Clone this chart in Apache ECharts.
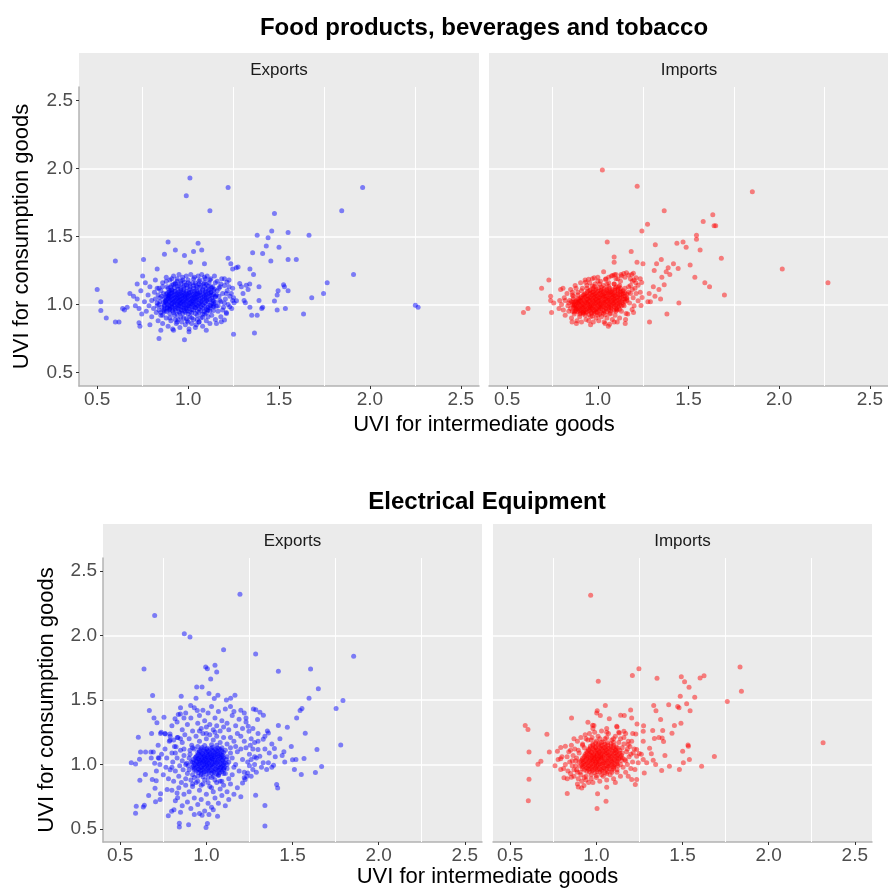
<!DOCTYPE html>
<html>
<head>
<meta charset="utf-8">
<script src="https://cdn.jsdelivr.net/npm/echarts@6/dist/echarts.min.js"></script>
<style>
html,body{margin:0;padding:0;background:#ffffff;}
#chart{width:888px;height:888px;}
</style>
</head>
<body>
<div id="chart"></div>
<script>
// Axis breaks shared by all four facets
const xBreaks = [0.5, 1.0, 1.5, 2.0, 2.5];
const yBreaks = [0.5, 1.0, 1.5, 2.0, 2.5];
const xMinorBreaks = [0.75, 1.25, 1.75, 2.25];
const facetLabels = ['Exports', 'Imports'];
const sectorTitles = ['Food products, beverages and tobacco', 'Electrical Equipment'];
const xTitle = 'UVI for intermediate goods';
const yTitle = 'UVI for consumption goods';

// Food products, beverages and tobacco — exports [intermediate UVI, consumption UVI]
const foodExports = [
[0.50,1.11],[0.52,1.02],[0.52,0.955],[0.55,0.90],[0.60,1.32],[0.60,0.87],[0.62,0.87],[0.64,0.97],[0.65,0.96],[0.665,0.98],
[0.68,1.08],[0.72,1.15],[0.75,1.21],[0.755,1.33],[0.73,0.865],[0.735,0.84],[0.79,0.85],[0.83,1.26],[0.85,0.81],[0.84,0.75],
[0.87,1.37],[0.89,1.46],[0.93,1.40],[0.92,0.81],[0.98,0.74],[0.98,1.36],[1.01,1.93],[0.99,1.80],[1.03,1.39],[1.055,1.45],
[1.075,1.40],[1.005,0.82],[1.013,1.31],[1.09,1.30],[1.12,1.69],[1.10,0.81],[1.045,0.85],[1.22,1.86],[1.22,1.34],[1.235,1.30],
[1.25,0.78],[1.245,1.26],[1.265,1.27],[1.275,1.275],[1.34,1.26],[1.355,1.38],[1.38,1.51],[1.36,1.22],[1.34,0.98],[1.35,0.92],
[1.365,0.79],[1.38,0.92],[1.39,1.03],[1.39,1.13],[1.405,0.97],[1.41,0.98],[1.41,1.375],[1.43,1.43],[1.44,1.49],[1.455,1.32],
[1.46,1.54],[1.475,1.67],[1.475,1.025],[1.49,0.96],[1.49,1.07],[1.495,1.10],[1.50,1.42],[1.525,1.145],[1.53,1.13],[1.535,0.97],
[1.55,1.53],[1.55,1.33],[1.55,1.10],[1.595,1.33],[1.635,0.93],[1.665,1.51],[1.68,1.05],[1.745,1.08],[1.765,1.16],[1.845,1.69],
[1.91,1.22],[1.96,1.86],[2.25,0.995],[2.265,0.98],
[1.214,1.164],[1.225,1.13],[1.238,1.08],[1.245,1.03],[1.253,1.012],[1.266,1.027],[1.284,1.154],[1.293,1.13],[1.302,1.08],[1.308,1.03],
[1.32,1.142],[1.33,1.11],[1.315,1.012],[1.339,1.15],[1.229,0.983],[1.211,0.934],[1.20,0.885],[1.183,0.873],[1.156,0.86],
[0.70,1.06],[0.71,0.99],[0.72,1.04],[0.73,0.97],[0.74,1.10],[0.745,0.93],[0.76,1.02],[0.765,1.16],[0.77,0.95],[0.78,1.07],
[0.785,0.99],[0.79,1.13],[0.80,0.91],[0.80,1.03],[0.81,0.97],[0.815,1.09],[0.82,1.18],[0.825,0.94],[0.83,1.01],[0.835,0.88],
[0.84,1.12],[0.845,1.05],[0.85,0.92],[0.855,0.98],[0.86,1.16],[0.86,0.86],[0.865,1.08],[0.87,0.95],[0.875,1.02],[0.88,1.20],
[0.88,0.90],[0.885,1.13],[0.89,0.84],[0.895,1.06],[0.90,0.97],[0.90,1.18],[0.905,0.88],[0.91,1.10],[0.915,0.82],[0.92,1.21],
[0.925,0.92],[0.93,1.15],[0.935,0.86],[0.94,1.19],[0.945,0.89],[0.95,1.22],[0.955,0.83],[0.96,1.17],[0.965,0.87],[0.97,1.20],
[0.975,0.90],[0.98,1.14],[0.985,0.85],[0.99,1.21],[0.995,0.88],[1.00,1.18],[1.005,0.80],[1.01,0.91],[1.015,1.22],[1.02,0.86],
[1.025,1.16],[1.03,0.89],[1.035,1.20],[1.04,0.83],[1.045,1.14],[1.05,0.92],[1.055,1.21],[1.06,0.87],[1.065,1.18],[1.07,0.90],
[1.075,1.22],[1.08,0.84],[1.085,1.15],[1.09,0.93],[1.095,1.19],[1.10,0.88],[1.105,1.21],[1.11,0.96],[1.115,1.16],[1.12,0.86],
[1.125,1.19],[1.13,0.92],[1.135,1.13],[1.14,0.99],[1.145,1.21],[1.15,0.89],[1.155,1.07],[1.16,1.17],[1.165,0.95],[1.17,1.12],
[1.175,1.03],[1.18,0.91],[1.185,1.19],[1.19,1.08],[1.195,0.98],[1.20,1.14],[1.205,1.04],[1.21,0.94],[1.215,1.10],[1.22,1.00],
[1.225,1.18],[1.23,1.06],[1.24,0.97],[1.245,1.12],[1.25,1.05],
[0.82,1.04],[0.83,0.99],[0.835,1.07],[0.84,0.96],[0.845,1.02],[0.85,1.10],[0.85,0.94],[0.855,1.06],[0.84,1.00],[0.83,1.12],[0.86,0.92],[0.86,1.13],
[0.88,1.17],[0.91,1.19],[0.94,1.17],[0.97,1.18],[1.00,1.16],[1.03,1.19],[1.06,1.17],[1.09,1.20],[1.12,1.18],[1.15,1.16],[1.18,1.15],[1.20,1.19],
[1.16,1.10],[1.17,1.06],[1.18,1.02],[1.19,0.96],[1.165,0.99],[1.175,1.13],[1.21,1.08],[1.20,1.01],
[0.90,0.90],[0.93,0.89],[0.96,0.905],[0.99,0.895],[1.02,0.90],[1.05,0.89],[1.08,0.905],[1.11,0.91],[0.94,0.87],[1.00,0.87],[1.06,0.87],
[0.90,0.932],[0.94,0.927],[0.97,0.934],[1.00,0.929],[1.04,0.933],[1.08,0.928],
[0.88,0.948],[0.915,0.953],[0.95,0.946],[0.98,0.952],[1.01,0.947],[1.05,0.954],[1.09,0.949],[1.12,0.951],
[0.87,0.967],[0.90,0.962],[0.93,0.968],[0.96,0.963],[0.99,0.966],[1.02,0.961],[1.06,0.969],[1.10,0.964],
[0.885,0.978],[0.91,0.983],[0.94,0.977],[0.965,0.982],[0.99,0.976],[1.015,0.984],[1.04,0.979],[1.07,0.983],[1.11,0.977],[1.14,0.981],
[0.87,0.996],[0.90,0.992],[0.925,0.998],[0.95,0.993],[0.975,0.997],[1.00,0.991],[1.025,0.999],[1.05,0.994],[1.08,0.997],[1.12,0.992],
[0.88,1.012],[0.91,1.007],[0.935,1.013],[0.955,1.008],[0.98,1.011],[1.005,1.006],[1.03,1.014],[1.06,1.009],[1.09,1.012],[1.13,1.007],
[0.875,1.023],[0.90,1.028],[0.925,1.022],[0.95,1.027],[0.97,1.021],[0.995,1.026],[1.02,1.024],[1.045,1.029],[1.07,1.022],[1.10,1.027],[1.14,1.024],
[0.89,1.042],[0.915,1.037],[0.94,1.043],[0.96,1.038],[0.985,1.041],[1.01,1.036],[1.035,1.044],[1.06,1.039],[1.09,1.042],[1.12,1.037],
[0.88,1.053],[0.905,1.058],[0.93,1.052],[0.955,1.057],[0.98,1.054],[1.00,1.059],[1.025,1.051],[1.05,1.056],[1.08,1.053],[1.11,1.058],[1.15,1.054],
[0.895,1.072],[0.92,1.067],[0.945,1.073],[0.97,1.068],[0.995,1.071],[1.02,1.066],[1.045,1.074],[1.07,1.069],[1.10,1.072],[1.13,1.067],
[0.885,1.083],[0.91,1.088],[0.94,1.082],[0.965,1.087],[0.99,1.084],[1.015,1.089],[1.04,1.081],[1.065,1.086],[1.095,1.083],[1.125,1.088],
[0.90,1.102],[0.93,1.097],[0.96,1.103],[0.99,1.098],[1.02,1.101],[1.05,1.096],[1.08,1.104],[1.11,1.099],[1.14,1.102],
[0.89,1.118],[0.925,1.123],[0.96,1.117],[0.995,1.122],[1.03,1.119],[1.065,1.124],[1.10,1.116],[1.13,1.121],
[0.91,1.142],[0.95,1.137],[0.99,1.143],[1.03,1.138],[1.07,1.141],[1.11,1.136],
[0.93,1.158],[0.98,1.163],[1.04,1.157],[1.09,1.162],
[0.92,0.941],[0.955,0.938],[0.985,0.943],[1.02,0.939],[1.06,0.942],[1.10,0.937],
[0.865,0.956],[0.895,0.959],[0.93,0.955],[0.965,0.958],[0.995,0.954],[1.03,0.96],[1.07,0.956],[1.105,0.959],[1.14,0.955],
[0.885,0.972],[0.915,0.975],[0.945,0.971],[0.975,0.974],[1.005,0.97],[1.04,0.975],[1.08,0.972],[1.12,0.974],
[0.87,0.987],[0.895,0.99],[0.925,0.986],[0.95,0.989],[0.98,0.985],[1.005,0.99],[1.03,0.986],[1.055,0.989],[1.09,0.987],[1.125,0.99],[1.155,0.986],
[0.885,1.002],[0.91,1.005],[0.94,1.001],[0.96,1.004],[0.99,1.0],[1.015,1.005],[1.04,1.001],[1.065,1.004],[1.10,1.002],[1.14,1.005],
[0.865,1.017],[0.895,1.02],[0.92,1.016],[0.945,1.019],[0.965,1.015],[0.99,1.02],[1.015,1.016],[1.04,1.019],[1.075,1.017],[1.11,1.02],[1.15,1.016],
[0.88,1.032],[0.905,1.035],[0.93,1.031],[0.955,1.034],[0.975,1.03],[1.0,1.035],[1.025,1.031],[1.05,1.034],[1.08,1.032],[1.105,1.035],[1.135,1.031],
[0.87,1.047],[0.895,1.05],[0.92,1.046],[0.945,1.049],[0.97,1.045],[0.995,1.05],[1.02,1.046],[1.045,1.049],[1.07,1.047],[1.1,1.05],[1.13,1.046],
[0.89,1.062],[0.915,1.065],[0.94,1.061],[0.965,1.064],[0.985,1.06],[1.01,1.065],[1.035,1.061],[1.06,1.064],[1.09,1.062],[1.12,1.065],[1.15,1.061],
[0.88,1.077],[0.905,1.08],[0.93,1.076],[0.955,1.079],[0.98,1.075],[1.005,1.08],[1.03,1.076],[1.055,1.079],[1.085,1.077],[1.115,1.08],[1.14,1.076],
[0.895,1.092],[0.925,1.095],[0.95,1.091],[0.975,1.094],[1.005,1.09],[1.035,1.095],[1.065,1.091],[1.095,1.094],[1.125,1.092],
[0.91,1.109],[0.945,1.112],[0.975,1.108],[1.01,1.111],[1.045,1.107],[1.08,1.112],[1.115,1.108],[1.145,1.111],
[0.905,1.129],[0.94,1.132],[0.975,1.128],[1.01,1.131],[1.05,1.127],[1.09,1.132],[1.125,1.128],
[0.92,1.149],[0.96,1.152],[1.01,1.148],[1.06,1.151],[1.10,1.147]
];

// Food products, beverages and tobacco — imports
const foodImports = [
[0.59,0.94],[0.615,0.97],[0.69,1.12],[0.73,1.18],[0.74,1.06],[0.74,1.03],[0.745,0.94],[0.757,1.01],[0.786,0.97],[0.795,1.11],
[0.808,1.12],[0.79,1.03],[0.858,0.87],[0.882,0.86],[1.025,1.99],[1.052,1.46],[1.032,1.24],[1.09,1.35],[1.09,1.31],[1.058,0.84],
[1.065,0.855],[1.107,0.87],[1.153,0.89],[1.151,0.86],[1.184,1.39],[1.197,0.94],[1.217,1.87],[1.243,1.54],[1.216,1.31],[1.249,1.30],
[1.274,1.59],[1.285,0.87],[1.317,1.44],[1.311,1.25],[1.324,1.30],[1.306,1.13],[1.283,1.08],[1.29,1.02],[1.276,1.02],[1.315,1.06],
[1.337,1.11],[1.346,1.04],[1.35,1.33],[1.353,1.20],[1.366,1.69],[1.366,1.145],[1.377,1.24],[1.388,1.27],[1.397,1.22],[1.417,1.30],
[1.443,1.265],[1.436,1.45],[1.447,1.01],[1.381,0.93],[1.47,1.46],[1.487,1.42],[1.509,1.29],[1.535,1.20],[1.544,1.51],[1.544,1.48],
[1.564,1.40],[1.581,1.61],[1.59,1.16],[1.616,1.13],[1.634,1.66],[1.641,1.58],[1.65,1.58],[1.681,1.34],[1.698,1.07],[1.852,1.83],
[2.017,1.26],[2.269,1.16],
[1.128,1.22],[1.143,1.228],[1.158,1.233],[1.17,1.216],[1.187,1.22],[1.196,1.23],[1.211,1.196],[1.234,1.189],[1.242,1.162],[1.222,1.142],
[1.234,1.09],[1.211,1.081],[1.244,1.051],[1.222,1.027],[1.238,0.993],[1.189,0.963],[1.156,0.934],
[0.932,1.164],[0.949,1.186],[0.98,1.196],[1.0,1.172],[1.042,1.184],[1.082,1.213],[1.092,1.218],[1.11,1.189],
[0.80,1.00],[0.81,0.96],[0.815,1.05],[0.82,0.92],[0.83,1.08],[0.835,0.99],[0.84,0.95],[0.845,1.03],[0.85,1.11],[0.855,0.90],
[0.86,1.00],[0.865,1.06],[0.87,0.93],[0.875,1.14],[0.88,0.97],[0.885,0.88],[0.89,1.09],[0.895,1.02],[0.90,0.91],[0.905,1.16],
[0.91,0.87],[0.915,1.12],[0.92,0.94],[0.93,1.18],[0.935,0.89],[0.94,1.14],[0.95,0.88],[0.955,1.16],[0.96,0.91],[0.97,1.19],
[0.975,0.87],[0.985,1.15],[0.99,0.90],[1.00,1.20],[1.005,0.88],[1.015,1.17],[1.02,0.91],[1.03,1.14],[1.035,0.87],[1.045,1.19],
[1.05,0.90],[1.06,1.16],[1.065,0.93],[1.075,1.21],[1.08,0.89],[1.09,1.15],[1.095,0.92],[1.10,1.19],[1.105,0.96],[1.115,1.13],
[1.12,0.90],[1.125,1.17],[1.13,0.95],[1.14,1.10],[1.145,0.99],[1.15,1.20],[1.16,1.04],[1.165,0.93],[1.17,1.13],[1.175,1.01],
[1.18,1.08],[1.19,1.17],[1.195,1.05],[1.20,0.99],[1.205,1.12],[1.13,1.21],[1.10,1.22],[1.06,1.20],[0.96,0.85],[1.04,0.86],
[1.09,0.87],[0.87,1.02],[0.86,1.09],[0.84,1.01],[0.82,1.03],[0.88,1.12],[1.18,1.19],[1.21,1.16],
[0.85,0.97],[0.855,1.02],[0.86,0.95],[0.865,1.04],[0.87,0.99],[0.87,0.945],[0.86,1.07],[0.90,0.93],[0.93,0.92],[0.97,0.915],
[1.00,0.92],[1.04,0.925],[1.07,0.935],[1.10,0.95],[1.12,0.965],[1.14,1.00],[1.16,1.05],[1.17,1.09],[1.15,1.12],[1.12,1.14],
[1.09,1.15],[1.05,1.15],[1.01,1.15],[0.97,1.135],[0.94,1.12],[0.91,1.10],[0.89,1.07],[1.18,1.14],[1.20,1.18],[1.19,1.11],
[0.92,0.932],[0.95,0.927],[0.98,0.933],[1.01,0.928],
[0.89,0.947],[0.915,0.942],[0.94,0.948],[0.965,0.943],[0.99,0.946],[1.02,0.941],[1.05,0.949],
[0.88,0.958],[0.905,0.963],[0.93,0.957],[0.955,0.962],[0.98,0.959],[1.005,0.964],[1.03,0.956],[1.06,0.961],[1.09,0.958],
[0.875,0.977],[0.90,0.972],[0.925,0.978],[0.95,0.973],[0.97,0.976],[0.995,0.971],[1.02,0.979],[1.045,0.974],[1.07,0.977],[1.10,0.972],
[0.88,0.988],[0.905,0.993],[0.93,0.987],[0.955,0.992],[0.975,0.989],[1.00,0.994],[1.025,0.986],[1.05,0.991],[1.075,0.988],[1.10,0.993],[1.13,0.989],
[0.89,1.007],[0.915,1.002],[0.94,1.008],[0.96,1.003],[0.985,1.006],[1.01,1.001],[1.035,1.009],[1.06,1.004],[1.085,1.007],[1.11,1.002],
[0.88,1.018],[0.905,1.023],[0.93,1.017],[0.95,1.022],[0.975,1.019],[1.00,1.024],[1.02,1.016],[1.045,1.021],[1.07,1.018],[1.095,1.023],[1.12,1.017],[1.15,1.022],
[0.895,1.037],[0.92,1.032],[0.945,1.038],[0.97,1.033],[0.99,1.036],[1.015,1.031],[1.04,1.039],[1.065,1.034],[1.09,1.037],[1.115,1.032],[1.14,1.038],
[0.905,1.048],[0.93,1.053],[0.955,1.047],[0.98,1.052],[1.005,1.049],[1.03,1.054],[1.055,1.046],[1.08,1.051],[1.105,1.048],[1.13,1.053],
[0.92,1.067],[0.945,1.062],[0.97,1.068],[0.995,1.063],[1.02,1.066],[1.045,1.061],[1.07,1.069],[1.095,1.064],[1.12,1.067],[1.15,1.062],
[0.93,1.078],[0.96,1.083],[0.985,1.077],[1.01,1.082],[1.035,1.079],[1.06,1.084],[1.085,1.076],[1.11,1.081],[1.14,1.078],
[0.945,1.097],[0.975,1.092],[1.00,1.098],[1.03,1.093],[1.055,1.096],[1.08,1.091],[1.11,1.099],[1.135,1.094],
[0.96,1.108],[0.99,1.113],[1.02,1.107],[1.05,1.112],[1.08,1.109],[1.11,1.114],
[0.98,1.132],[1.02,1.127],[1.06,1.133],[1.10,1.128],
[0.905,0.937],[0.935,0.94],[0.965,0.936],[0.995,0.939],[1.03,0.935],
[0.875,0.952],[0.9,0.955],[0.925,0.951],[0.955,0.954],[0.98,0.95],[1.005,0.955],[1.035,0.951],[1.07,0.954],
[0.89,0.967],[0.915,0.97],[0.94,0.966],[0.965,0.969],[0.99,0.965],[1.015,0.97],[1.045,0.966],[1.075,0.969],[1.105,0.967],
[0.865,0.982],[0.89,0.985],[0.915,0.981],[0.94,0.984],[0.96,0.98],[0.985,0.985],[1.01,0.981],[1.035,0.984],[1.06,0.982],[1.09,0.985],[1.115,0.981],
[0.87,0.997],[0.895,1.0],[0.92,0.996],[0.945,0.999],[0.965,0.995],[0.99,1.0],[1.015,0.996],[1.04,0.999],[1.065,0.997],[1.09,1.0],[1.12,0.996],
[0.865,1.012],[0.89,1.015],[0.915,1.011],[0.94,1.014],[0.965,1.01],[0.99,1.015],[1.01,1.011],[1.035,1.014],[1.06,1.012],[1.085,1.015],[1.11,1.011],[1.135,1.014],
[0.88,1.027],[0.905,1.03],[0.93,1.026],[0.955,1.029],[0.98,1.025],[1.005,1.03],[1.03,1.026],[1.055,1.029],[1.08,1.027],[1.105,1.03],[1.13,1.026],[1.16,1.029],
[0.89,1.042],[0.915,1.045],[0.94,1.041],[0.965,1.044],[0.99,1.04],[1.015,1.045],[1.04,1.041],[1.065,1.044],[1.09,1.042],[1.12,1.045],[1.15,1.041],
[0.91,1.057],[0.935,1.06],[0.96,1.056],[0.985,1.059],[1.01,1.055],[1.035,1.06],[1.06,1.056],[1.085,1.059],[1.11,1.057],[1.14,1.06],
[0.925,1.072],[0.955,1.075],[0.98,1.071],[1.005,1.074],[1.03,1.07],[1.055,1.075],[1.08,1.071],[1.105,1.074],[1.13,1.072],[1.16,1.075],
[0.94,1.087],[0.97,1.09],[0.995,1.086],[1.02,1.089],[1.045,1.085],[1.07,1.09],[1.095,1.086],[1.125,1.089],[1.15,1.087],
[0.955,1.102],[0.985,1.105],[1.015,1.101],[1.045,1.104],[1.07,1.1],[1.095,1.105],[1.125,1.101],
[0.975,1.119],[1.005,1.122],[1.035,1.118],[1.065,1.121],[1.095,1.117],[1.125,1.12]
];

// Electrical equipment — exports
const elecExports = [
[0.564,1.013],[0.589,1.005],[0.589,0.623],[0.593,0.677],[0.605,1.212],[0.612,1.041],[0.614,0.879],[0.618,1.098],[0.634,0.671],[0.64,0.685],
[0.638,1.741],[0.647,1.098],[0.646,0.923],[0.665,0.76],[0.669,1.418],[0.678,1.098],[0.682,1.24],[0.686,0.884],[0.688,1.534],[0.692,1.098],
[0.70,2.154],[0.696,1.361],[0.702,0.817],[0.709,0.874],[0.705,0.711],[0.713,1.323],[0.721,1.052],[0.725,1.048],[0.731,0.729],[0.734,0.773],
[0.734,1.24],[0.738,1.25],[0.754,1.366],[0.762,1.237],[0.772,0.806],[0.779,0.603],[0.789,1.237],[0.789,1.188],[0.798,0.639],[0.812,0.649],
[0.818,1.354],[0.824,1.137],[0.831,1.209],[0.837,1.387],[0.849,1.392],[0.833,0.742],[0.843,0.517],[0.843,0.546],[0.854,1.529],[0.872,2.014],
[0.897,0.533],[0.905,1.988],[0.909,1.457],[0.944,1.601],[0.975,1.601],[0.94,1.514],[0.947,1.418],[0.93,0.613],[0.975,0.608],[0.998,0.512],
[1.006,0.543],[0.996,1.756],[1.006,1.743],[1.015,1.55],[1.025,1.663],[1.05,1.769],[1.06,1.717],[1.046,1.511],[1.067,1.537],[1.015,0.613],
[1.065,0.60],[1.10,1.89],[1.116,1.50],[1.141,1.514],[1.166,1.537],[1.195,2.319],[1.286,1.857],[1.286,0.763],[1.34,0.683],[1.34,0.523],
[1.418,1.723],[1.408,0.845],[1.414,0.819],[1.418,1.302],[1.427,1.199],[1.47,1.289],[1.493,1.139],[1.511,0.961],[1.52,1.039],[1.50,1.037],
[1.524,1.361],[1.544,1.418],[1.555,1.434],[1.551,0.923],[1.567,1.046],[1.574,1.243],[1.596,1.514],[1.605,1.741],[1.633,0.938],[1.642,1.116],
[1.65,1.588],[1.669,0.985],[1.753,1.434],[1.78,1.152],[1.793,1.496],[1.855,1.839],
[1.273,1.431],[1.287,1.425],[1.297,1.348],[1.311,1.405],[1.331,1.382],[1.243,1.297],[1.247,1.258],[1.354,1.26],[1.36,1.245],[1.34,1.22],
[1.33,1.195],[1.30,1.116],[1.31,1.065],[1.33,1.013],[1.35,0.961],[1.36,1.013],[1.38,0.98],[1.39,0.995],[1.365,1.09],[1.27,0.961],
[1.24,0.935],[1.22,0.897],[1.235,0.91],[1.21,0.858],[1.225,0.884],[1.38,1.16],[1.395,1.125],[1.40,1.06],[1.44,1.07],[1.45,1.10],
[1.455,1.02],[1.26,1.20],[1.28,1.17],[1.29,1.05],[1.32,0.98],[1.25,0.99],[1.26,1.04],[1.28,1.00],[1.34,1.12],[1.30,1.24],
[1.27,1.28],[1.255,1.15],[1.22,1.40],[1.20,1.42],[1.23,1.36],
[0.80,1.30],[0.83,1.33],[0.86,1.27],[0.88,1.40],[0.89,1.31],[0.91,1.36],[0.92,1.26],[0.93,1.44],[0.95,1.32],[0.96,1.38],
[0.97,1.28],[0.98,1.42],[0.99,1.34],[1.00,1.29],[1.01,1.40],[1.02,1.31],[1.03,1.45],[1.04,1.27],[1.05,1.36],[1.06,1.30],
[1.07,1.41],[1.08,1.26],[1.09,1.34],[1.10,1.29],[1.11,1.43],[1.12,1.32],[1.13,1.27],[1.15,1.38],[1.17,1.30],[1.19,1.35],
[1.21,1.28],[1.23,1.33],[0.85,1.44],[0.87,1.36],[1.14,1.45],[1.16,1.41],
[0.71,0.95],[0.72,1.15],[0.73,1.00],[0.74,1.08],[0.75,0.92],[0.76,1.12],[0.765,0.98],[0.77,1.05],[0.78,0.89],[0.785,1.18],
[0.79,0.96],[0.80,1.09],[0.805,1.02],[0.81,0.87],[0.815,1.14],[0.82,0.95],[0.83,1.05],[0.835,1.21],[0.84,0.91],[0.845,0.99],
[0.85,1.11],[0.855,0.86],[0.86,1.17],[0.865,0.96],[0.87,1.07],[0.875,1.23],[0.88,0.89],[0.885,1.01],[0.76,1.24],[0.79,1.22],
[0.81,1.19],[0.68,1.05],[0.70,1.01],
[0.80,0.80],[0.82,0.72],[0.84,0.82],[0.86,0.68],[0.87,0.77],[0.88,0.84],[0.89,0.71],[0.90,0.79],[0.91,0.66],[0.92,0.83],
[0.93,0.74],[0.94,0.86],[0.95,0.69],[0.96,0.80],[0.97,0.73],[0.98,0.85],[0.99,0.64],[1.00,0.77],[1.01,0.70],[1.02,0.83],
[1.03,0.67],[1.04,0.79],[1.05,0.74],[1.06,0.86],[1.07,0.70],[1.08,0.81],[1.09,0.76],[1.10,0.84],[1.11,0.68],[1.12,0.79],
[1.13,0.73],[1.14,0.85],[1.16,0.77],[1.18,0.82],[1.20,0.75],[0.85,0.63],[0.96,0.62],[1.04,0.65],[0.83,0.78],
[1.15,0.92],[1.16,1.18],[1.17,1.00],[1.18,1.10],[1.19,0.95],[1.20,1.22],[1.21,1.04],[1.22,0.94],[1.23,1.13],[1.24,1.02],
[1.25,1.08],[1.26,0.91],[1.27,1.12],[1.28,1.06],[1.29,0.94],[1.30,1.18],[1.18,1.24],[1.14,1.21],[1.22,1.18],
[0.89,0.93],[0.90,1.20],[0.91,0.88],[0.92,1.13],[0.93,0.90],[0.94,1.22],[0.95,0.87],[0.96,1.18],[0.97,0.92],[0.98,1.24],
[0.99,0.88],[1.00,1.20],[1.01,0.86],[1.02,1.23],[1.03,0.90],[1.04,1.19],[1.05,0.88],[1.06,1.22],[1.07,0.92],[1.08,1.17],
[1.09,0.87],[1.10,1.21],[1.11,0.93],[1.12,1.16],[1.13,0.89],[1.14,1.09],[0.90,1.05],[0.895,0.99],[0.905,1.11],[1.13,1.02],
[1.12,0.97],[1.14,1.13],
[0.90,0.96],[0.91,1.02],[0.905,1.08],[0.92,0.92],[0.915,1.15],[0.95,0.91],[0.98,0.905],[1.01,0.90],[1.04,0.91],[1.07,0.915],
[1.10,0.93],[1.12,1.00],[1.12,1.06],[1.11,1.11],[1.09,1.13],[1.06,1.15],[0.95,1.14],[0.93,1.12],[0.88,1.00],[0.87,1.12],
[0.86,1.03],[0.96,1.26],[1.00,1.24],[1.05,1.25],[0.92,0.85],[0.97,0.84],[1.03,0.82],[1.08,0.87],[0.85,1.20],[1.15,1.05],
[1.17,1.14],[1.16,0.98],[1.20,1.12],[0.82,1.09],[0.80,0.98],
[0.97,0.932],[1.00,0.927],[1.03,0.933],[1.06,0.928],
[0.94,0.948],[0.965,0.953],[0.99,0.947],[1.015,0.952],[1.04,0.949],[1.07,0.954],[1.09,0.946],
[0.93,0.972],[0.955,0.967],[0.98,0.973],[1.005,0.968],[1.03,0.971],[1.055,0.966],[1.08,0.974],[1.10,0.969],
[0.925,0.988],[0.95,0.993],[0.975,0.987],[1.00,0.992],[1.02,0.989],[1.045,0.994],[1.07,0.986],[1.095,0.991],
[0.93,1.012],[0.955,1.007],[0.975,1.013],[0.995,1.008],[1.015,1.011],[1.035,1.006],[1.06,1.014],[1.085,1.009],[1.11,1.012],
[0.94,1.028],[0.96,1.033],[0.98,1.027],[1.00,1.032],[1.02,1.029],[1.04,1.034],[1.065,1.026],[1.09,1.031],
[0.935,1.052],[0.955,1.047],[0.975,1.053],[0.995,1.048],[1.015,1.051],[1.035,1.046],[1.055,1.054],[1.08,1.049],[1.10,1.052],
[0.945,1.068],[0.97,1.073],[0.99,1.067],[1.01,1.072],[1.03,1.069],[1.05,1.074],[1.075,1.066],[1.095,1.071],
[0.95,1.092],[0.975,1.087],[1.00,1.093],[1.025,1.088],[1.05,1.091],[1.075,1.086],[1.10,1.094],
[0.96,1.108],[0.985,1.113],[1.01,1.107],[1.035,1.112],[1.06,1.109],[1.085,1.114],
[0.975,1.132],[1.005,1.127],[1.035,1.133],[1.065,1.128],
[0.99,1.148],[1.03,1.153],
[0.955,0.938],[0.985,0.941],[1.015,0.937],[1.045,0.94],[1.075,0.936],
[0.93,0.958],[0.955,0.961],[0.98,0.957],[1.005,0.96],[1.03,0.956],[1.055,0.961],[1.08,0.957],[1.10,0.96],
[0.92,0.979],[0.945,0.982],[0.97,0.978],[0.99,0.981],[1.01,0.977],[1.035,0.982],[1.06,0.978],[1.085,0.981],[1.105,0.977],
[0.935,0.999],[0.96,1.002],[0.985,0.998],[1.005,1.001],[1.025,0.997],[1.05,1.002],[1.075,0.998],[1.10,1.001],
[0.92,1.019],[0.945,1.022],[0.965,1.018],[0.985,1.021],[1.005,1.017],[1.03,1.022],[1.05,1.018],[1.075,1.021],[1.10,1.017],
[0.925,1.039],[0.95,1.042],[0.97,1.038],[0.99,1.041],[1.01,1.037],[1.03,1.042],[1.05,1.038],[1.07,1.041],[1.095,1.037],[1.115,1.04],
[0.94,1.059],[0.965,1.062],[0.985,1.058],[1.005,1.061],[1.025,1.057],[1.045,1.062],[1.065,1.058],[1.09,1.061],
[0.955,1.079],[0.98,1.082],[1.00,1.078],[1.02,1.081],[1.04,1.077],[1.065,1.082],[1.085,1.078],
[0.96,1.099],[0.99,1.102],[1.015,1.098],[1.04,1.101],[1.065,1.097],[1.09,1.10],
[0.97,1.121],[1.00,1.118],[1.025,1.122],[1.05,1.119],[1.075,1.121]
];

// Electrical equipment — imports
const elecImports = [
[0.587,1.302],[0.603,1.271],[0.609,1.098],[0.609,0.886],[0.605,0.719],[0.661,1.003],[0.678,1.026],[0.713,1.235],[0.727,1.098],[0.76,0.99],
[0.774,1.103],[0.793,1.132],[0.778,1.039],[0.793,1.044],[0.793,0.961],[0.812,0.897],[0.831,0.889],[0.855,0.902],[0.831,0.775],[0.82,1.142],
[0.856,1.361],[0.895,0.827],[0.915,0.819],[0.928,0.837],[0.967,2.311],[0.951,1.328],[0.978,1.304],[0.986,1.302],[1.002,1.40],[1.005,1.416],
[1.011,1.645],[1.023,1.38],[1.007,0.773],[1.004,0.659],[1.056,0.716],[1.052,1.457],[1.06,1.25],[1.075,1.354],[1.06,0.825],[1.118,1.297],
[1.141,1.382],[1.162,1.38],[1.133,1.245],[1.16,1.258],[1.199,1.423],[1.205,1.361],[1.236,1.315],[1.211,1.24],[1.229,1.237],[1.209,1.689],
[1.247,1.743],[1.226,0.845],[1.234,0.884],[1.274,1.30],[1.272,1.258],[1.272,1.18],[1.261,1.08],[1.272,1.039],[1.278,0.935],[1.292,1.013],
[1.309,1.126],[1.319,1.083],[1.327,1.264],[1.333,1.457],[1.337,1.201],[1.344,1.0],[1.33,1.034],[1.346,1.416],[1.352,1.668],[1.363,1.209],
[1.382,1.206],[1.373,1.348],[1.379,0.954],[1.385,1.263],[1.39,1.178],[1.398,1.07],[1.42,1.463],[1.424,0.987],[1.439,1.243],[1.453,1.302],
[1.472,1.45],[1.48,1.44],[1.482,0.961],[1.487,1.529],[1.491,1.32],[1.493,1.681],[1.501,1.103],[1.505,1.013],[1.512,1.642],[1.524,1.47],
[1.532,1.152],[1.534,1.142],[1.538,1.598],[1.54,1.039],[1.544,1.416],[1.571,1.522],[1.602,1.671],[1.625,1.687],[1.611,0.987],[1.685,1.062],
[1.76,1.488],[1.834,1.756],[1.842,1.568],[2.316,1.168],
[1.185,1.155],[1.205,1.181],[1.214,1.09],[1.234,1.065],[1.243,1.013],[1.224,0.961],[1.205,0.884],[1.185,0.91],[1.234,1.116],[1.249,1.085],
[0.82,1.00],[0.83,1.06],[0.835,0.95],[0.84,1.10],[0.845,1.02],[0.85,0.93],[0.855,1.15],[0.86,0.99],[0.865,1.07],[0.87,0.91],
[0.875,1.12],[0.88,1.03],[0.885,0.96],[0.89,1.18],[0.895,0.89],[0.90,1.09],[0.905,0.94],[0.91,1.21],[0.915,0.87],[0.92,1.15],
[0.93,0.90],[0.935,1.23],[0.94,0.88],[0.95,1.19],[0.955,0.86],[0.96,1.24],[0.97,0.89],[0.975,1.21],[0.98,0.86],[0.99,1.25],
[1.00,0.90],[1.01,1.22],[1.02,0.87],[1.03,1.26],[1.04,0.91],[1.05,1.20],[1.06,0.88],[1.07,1.24],[1.08,0.92],[1.09,1.19],
[1.10,0.89],[1.11,1.22],[1.12,0.94],[1.13,1.17],[1.14,0.91],[1.15,1.13],[1.155,0.98],[1.16,1.21],[1.165,1.04],[1.17,0.94],
[1.175,1.10],[1.18,1.00],[1.185,1.18],[1.19,1.06],[1.20,0.97],[1.195,1.14],[1.21,1.02],[0.87,1.20],[0.89,0.85],[1.11,0.86],
[1.17,1.24],[1.13,1.25],[0.80,1.06],[0.81,0.97],[1.22,1.12],[1.06,1.28],[0.98,1.28],[1.12,1.29],
[0.88,0.99],[0.885,1.05],[0.89,0.94],[0.895,1.11],[0.90,1.02],[0.91,0.92],[0.92,1.16],[0.94,0.91],[0.97,0.92],[1.00,0.915],
[1.03,0.92],[1.06,0.93],[1.09,0.94],[1.12,0.96],[1.14,1.00],[1.15,1.09],[1.16,1.16],[1.14,1.20],[1.10,1.20],[1.06,1.21],
[1.02,1.20],[0.97,1.19],[0.94,1.20],[0.93,1.13],[1.17,1.03],[1.18,1.12],[0.86,1.03],[0.85,1.11],[0.87,0.96],[1.20,1.08],
[0.96,0.942],[0.99,0.937],[1.02,0.943],[1.05,0.938],
[0.93,0.958],[0.955,0.963],[0.98,0.957],[1.005,0.962],[1.03,0.959],[1.06,0.964],[1.09,0.956],
[0.92,0.982],[0.945,0.977],[0.97,0.983],[0.995,0.978],[1.02,0.981],[1.045,0.976],[1.07,0.984],[1.10,0.979],
[0.915,0.998],[0.94,1.003],[0.965,0.997],[0.99,1.002],[1.01,0.999],[1.035,1.004],[1.06,0.996],[1.085,1.001],[1.11,0.998],
[0.925,1.022],[0.95,1.017],[0.975,1.023],[0.995,1.018],[1.015,1.021],[1.04,1.016],[1.065,1.024],[1.09,1.019],[1.12,1.022],
[0.92,1.038],[0.945,1.043],[0.97,1.037],[0.99,1.042],[1.01,1.039],[1.03,1.044],[1.055,1.036],[1.08,1.041],[1.105,1.038],[1.13,1.043],
[0.93,1.062],[0.955,1.057],[0.975,1.063],[0.995,1.058],[1.015,1.061],[1.035,1.056],[1.06,1.064],[1.085,1.059],[1.11,1.062],[1.14,1.057],
[0.935,1.078],[0.96,1.083],[0.985,1.077],[1.005,1.082],[1.025,1.079],[1.05,1.084],[1.075,1.076],[1.10,1.081],[1.125,1.078],
[0.945,1.102],[0.97,1.097],[0.995,1.103],[1.02,1.098],[1.045,1.101],[1.07,1.096],[1.095,1.104],[1.12,1.099],
[0.955,1.118],[0.98,1.123],[1.005,1.117],[1.03,1.122],[1.055,1.119],[1.08,1.124],[1.11,1.116],
[0.965,1.142],[0.995,1.137],[1.025,1.143],[1.055,1.138],[1.085,1.141],[1.115,1.136],
[0.98,1.158],[1.015,1.163],[1.05,1.157],[1.085,1.162],
[1.00,1.182],[1.04,1.177],
[0.945,0.948],[0.975,0.951],[1.005,0.947],[1.035,0.95],[1.065,0.946],
[0.92,0.968],[0.945,0.971],[0.97,0.967],[0.995,0.97],[1.02,0.966],[1.045,0.971],[1.075,0.967],[1.10,0.97],
[0.905,0.989],[0.93,0.992],[0.955,0.988],[0.98,0.991],[1.00,0.987],[1.025,0.992],[1.05,0.988],[1.075,0.991],[1.10,0.987],[1.125,0.99],
[0.925,1.009],[0.95,1.012],[0.975,1.008],[1.00,1.011],[1.02,1.007],[1.045,1.012],[1.07,1.008],[1.095,1.011],[1.12,1.007],
[0.91,1.029],[0.935,1.032],[0.96,1.028],[0.98,1.031],[1.00,1.027],[1.02,1.032],[1.045,1.028],[1.07,1.031],[1.095,1.027],[1.12,1.03],[1.145,1.032],
[0.92,1.049],[0.945,1.052],[0.965,1.048],[0.985,1.051],[1.005,1.047],[1.025,1.052],[1.045,1.048],[1.07,1.051],[1.095,1.047],[1.12,1.05],[1.15,1.052],
[0.94,1.069],[0.965,1.072],[0.985,1.068],[1.005,1.071],[1.025,1.067],[1.045,1.072],[1.07,1.068],[1.095,1.071],[1.12,1.067],[1.145,1.07],
[0.945,1.089],[0.97,1.092],[0.995,1.088],[1.015,1.091],[1.035,1.087],[1.06,1.092],[1.085,1.088],[1.11,1.091],[1.135,1.087],
[0.955,1.109],[0.985,1.112],[1.01,1.108],[1.035,1.111],[1.06,1.107],[1.085,1.112],[1.11,1.108],[1.135,1.111],
[0.965,1.129],[0.995,1.132],[1.02,1.128],[1.045,1.131],[1.07,1.127],[1.10,1.132],[1.125,1.128],
[0.98,1.149],[1.01,1.152],[1.035,1.148],[1.065,1.151],[1.10,1.147],
[0.995,1.169],[1.03,1.172],[1.065,1.168],[1.10,1.171]
];

const PANEL_BG = '#EBEBEB';
const FONT = 'Liberation Sans, Arial, sans-serif';
const BLUE = 'rgba(0,0,255,0.6)';
const RED = 'rgba(255,0,0,0.6)';

// facet layout: position of each plotting panel
const panels = [
  { left: 79,  top: 87,  width: 400, height: 299, leftAxis: true },
  { left: 489, top: 87,  width: 400, height: 299, leftAxis: false },
  { left: 103, top: 558, width: 379, height: 284, leftAxis: true },
  { left: 493, top: 558, width: 379, height: 284, leftAxis: false }
];
const STRIP_H = 34;

const fmt = v => v.toFixed(1);

const grid = panels.map(p => ({
  left: p.left, top: p.top, width: p.width, height: p.height,
  show: true, backgroundColor: PANEL_BG, borderWidth: 0, containLabel: false
}));

const xAxis = panels.map((p, i) => ({
  type: 'value', gridIndex: i, min: 0.4, max: 2.6, interval: 0.5,
  axisLine: { show: true, onZero: false, lineStyle: { color: '#b3b3b3', width: 1.5 } },
  axisTick: { show: true, length: 3, lineStyle: { color: '#333333', width: 1 }, customValues: xBreaks },
  axisLabel: { show: true, customValues: xBreaks, formatter: fmt, fontSize: 19, color: '#4d4d4d',
               fontFamily: FONT, margin: 4 },
  splitLine: { show: false }
}));

const yAxis = panels.map((p, i) => ({
  type: 'value', gridIndex: i, min: 0.4, max: 2.6, interval: 0.5,
  axisLine: { show: p.leftAxis, onZero: false, lineStyle: { color: '#b3b3b3', width: 1.5 } },
  axisTick: { show: p.leftAxis, length: 3, lineStyle: { color: '#333333', width: 1 }, customValues: yBreaks },
  axisLabel: { show: p.leftAxis, customValues: yBreaks, formatter: fmt, fontSize: 19, color: '#4d4d4d',
               fontFamily: FONT, margin: 6 },
  splitLine: { show: true, showMinLine: false, showMaxLine: false,
               lineStyle: { color: '#ffffff', width: 1.6 } }
}));

const seriesData = [foodExports, foodImports, elecExports, elecImports];
const colors = [BLUE, RED, BLUE, RED];

const series = seriesData.map((d, i) => ({
  type: 'scatter', xAxisIndex: i, yAxisIndex: i, z: 10,
  symbol: 'circle', symbolSize: 5,
  itemStyle: { color: colors[i], borderWidth: 0 },
  data: d,
  silent: true,
  markLine: {
    silent: true, symbol: 'none', label: { show: false },
    lineStyle: { color: '#ffffff', width: 1, type: 'solid' },
    emphasis: { disabled: true },
    data: xMinorBreaks.map(v => ({ xAxis: v }))
  }
}));

// strips, titles and axis titles
const graphic = [];
panels.forEach((p, i) => {
  graphic.push({
    type: 'rect', silent: true, z: 0,
    shape: { x: p.left, y: p.top - STRIP_H, width: p.width, height: STRIP_H },
    style: { fill: PANEL_BG }
  });
  graphic.push({
    type: 'text', silent: true, z: 5,
    x: p.left + p.width / 2, y: p.top - STRIP_H / 2,
    style: { text: facetLabels[i % 2], fill: '#1a1a1a', font: '17px ' + FONT,
             align: 'center', verticalAlign: 'middle' }
  });
});

const rows = [
  { titleX: 484, titleY: 28, xTitleY: 425, yTitleX: 22, span: [panels[0], panels[1]] },
  { titleX: 487, titleY: 502, xTitleY: 877, yTitleX: 47, span: [panels[2], panels[3]] }
];
rows.forEach((r, k) => {
  const a = r.span[0], b = r.span[1];
  graphic.push({
    type: 'text', silent: true, x: r.titleX, y: r.titleY,
    style: { text: sectorTitles[k], fill: '#000000', font: 'bold 24px ' + FONT,
             align: 'center', verticalAlign: 'middle' }
  });
  graphic.push({
    type: 'text', silent: true, x: (a.left + b.left + b.width) / 2, y: r.xTitleY,
    style: { text: xTitle, fill: '#000000', font: '22px ' + FONT,
             align: 'center', verticalAlign: 'middle' }
  });
  graphic.push({
    type: 'text', silent: true, x: r.yTitleX, y: a.top + a.height / 2, rotation: Math.PI / 2,
    style: { text: yTitle, fill: '#000000', font: '22px ' + FONT,
             align: 'center', verticalAlign: 'middle' }
  });
});

const chart = echarts.init(document.getElementById('chart'), null, { renderer: 'canvas' });
chart.setOption({
  animation: false,
  backgroundColor: '#ffffff',
  grid, xAxis, yAxis, series, graphic
});
</script>
</body>
</html>
